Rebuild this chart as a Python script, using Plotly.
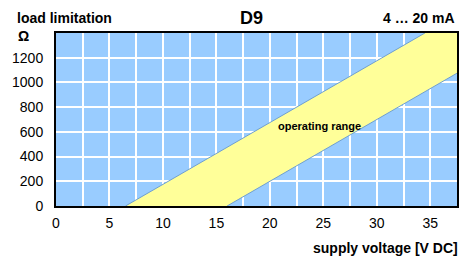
import plotly.graph_objects as go

# Data
upper_u = [6.5, 34.5]      # supply voltage (V) on the upper (left) boundary
upper_r = [0, 1400]        # load (Ohm)
lower_u = [16.0, 37.5]     # supply voltage (V) on the lower (right) boundary
lower_r = [0, 1075]
x_ticks = [0, 5, 10, 15, 20, 25, 30, 35]
y_ticks = [0, 200, 400, 600, 800, 1000, 1200]
x_range = [0, 37.5]
y_range = [0, 1400]

poly_x = [upper_u[0], upper_u[1], x_range[1], lower_u[1], lower_u[0], upper_u[0]]
poly_y = [upper_r[0], upper_r[1], y_range[1], lower_r[1], lower_r[0], upper_r[0]]

fig = go.Figure()
fig.add_trace(go.Scatter(x=poly_x, y=poly_y, mode="lines", fill="toself",
                         fillcolor="#FFFF99", line=dict(color="rgba(0,0,0,0)", width=0),
                         hoverinfo="skip", showlegend=False))
fig.add_trace(go.Scatter(x=upper_u, y=upper_r, mode="lines",
                         line=dict(color="#6f9fd0", width=1), showlegend=False))
fig.add_trace(go.Scatter(x=lower_u, y=lower_r, mode="lines",
                         line=dict(color="#6f9fd0", width=1), showlegend=False))

font_family = "Liberation Sans, Arial, sans-serif"
# page body has an 8px margin, so the figure is shrunk by 8px and margins compensated
fig.update_layout(
    width=464, height=249,
    margin=dict(l=48, r=15, t=25, b=51, autoexpand=False),
    paper_bgcolor="white", plot_bgcolor="#99CCFF",
    font=dict(family=font_family, size=14, color="black"),
    xaxis=dict(range=x_range, tickvals=x_ticks, automargin=False,
               showgrid=True, gridcolor="white", gridwidth=1.5,
               showline=True, linecolor="black", linewidth=2, mirror=True,
               ticks="outside", ticklen=3, tickcolor="rgba(0,0,0,0)",
               zeroline=False, tickfont=dict(size=14)),
    yaxis=dict(range=y_range, tickvals=y_ticks, automargin=False,
               showgrid=True, gridcolor="white", gridwidth=1.5,
               showline=True, linecolor="black", linewidth=2, mirror=True,
               ticks="outside", ticklen=8, tickcolor="rgba(0,0,0,0)",
               zeroline=False, tickfont=dict(size=14)),
)
fig.update_xaxes(minor=dict(dtick=2.5, showgrid=True, gridcolor="white", gridwidth=1.5, ticks=""))

W, H = 401, 173  # plot area size in px
def px(xp):
    return (xp - 56) / W
def py(yp):
    return (206 - yp) / H

fig.add_annotation(text="<b>load limitation</b>", x=px(15), y=py(18), xref="paper", yref="paper",
                   xanchor="left", yanchor="middle", showarrow=False, font=dict(size=14))
fig.add_annotation(text="<b>Ω</b>", x=px(16), y=py(36), xref="paper", yref="paper",
                   xanchor="left", yanchor="middle", showarrow=False, font=dict(size=14))
fig.add_annotation(text="<b>D9</b>", x=px(251), y=py(18), xref="paper", yref="paper",
                   xanchor="center", yanchor="middle", showarrow=False, font=dict(size=18))
fig.add_annotation(text="<b>4 … 20 mA</b>", x=px(457), y=py(18), xref="paper", yref="paper",
                   xanchor="right", yanchor="middle", showarrow=False, font=dict(size=14))
fig.add_annotation(text="<b>supply voltage [V DC]</b>", x=px(460), y=py(248), xref="paper", yref="paper",
                   xanchor="right", yanchor="middle", showarrow=False, font=dict(size=14))
fig.add_annotation(text="<b>operating range</b>", x=24.6, y=647, xref="x", yref="y",
                   xanchor="center", yanchor="middle", showarrow=False, font=dict(size=11))

fig.write_html("out.html")
